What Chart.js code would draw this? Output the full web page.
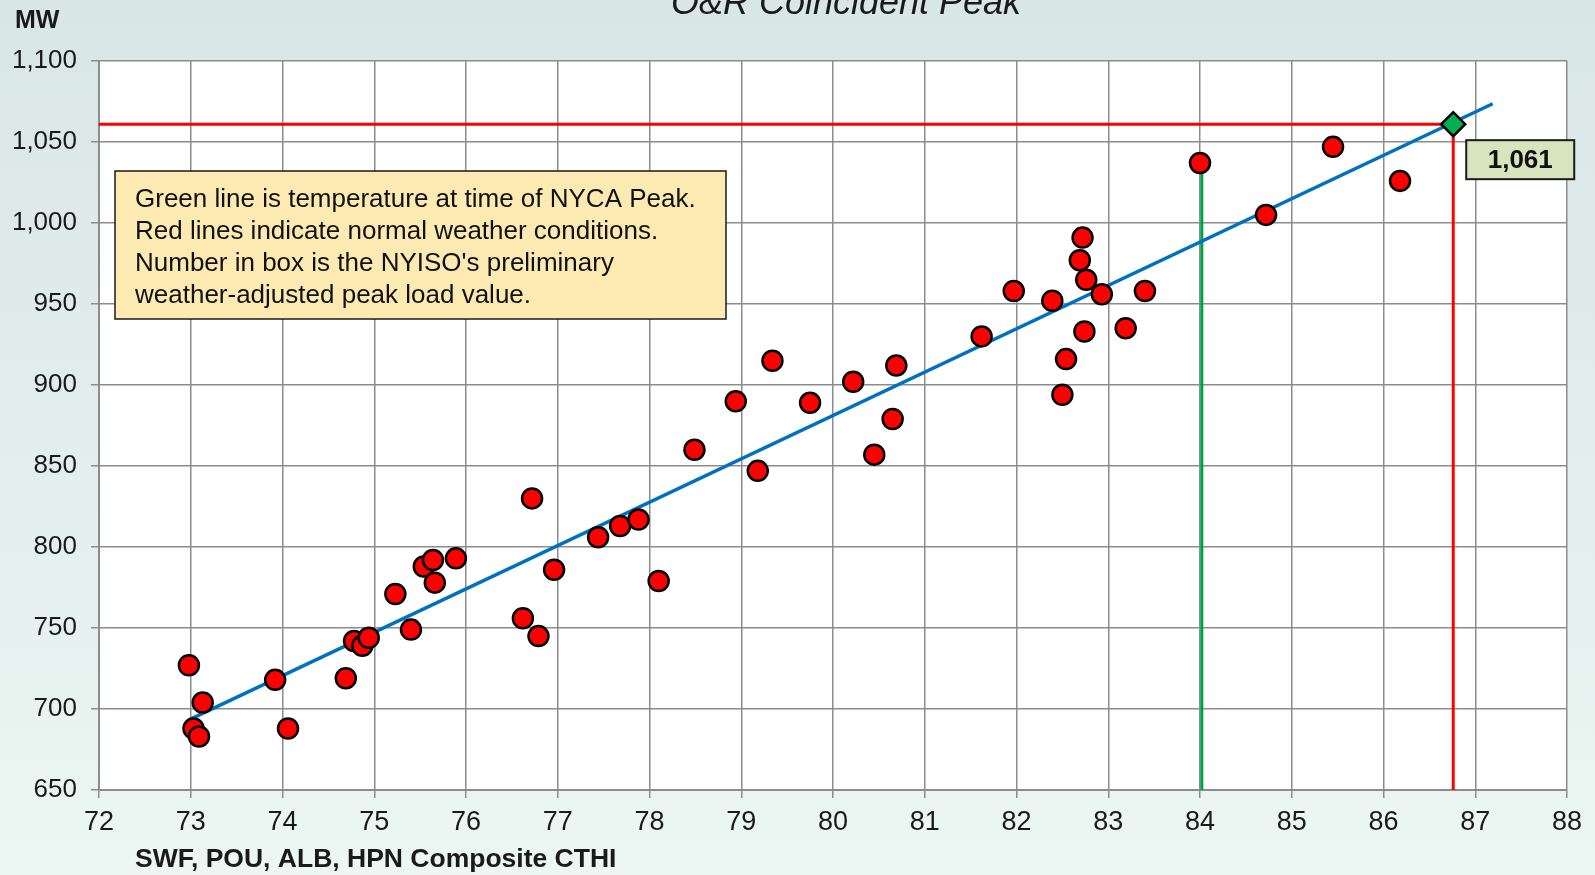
<!DOCTYPE html>
<html>
<head>
<meta charset="utf-8">
<script src="https://cdn.jsdelivr.net/npm/chart.js@4.4.1/dist/chart.umd.min.js"></script>
<style>
  html, body { margin: 0; padding: 0; background: #dfeae9; }
  #wrap { width: 1595px; height: 875px; }
</style>
</head>
<body>
<div id="wrap"><canvas id="chart" width="1595" height="875"></canvas></div>
<script>
/* ─── Dados ─── */
const tempCTHI = [72.98, 73.03, 73.09, 73.13, 73.92, 74.06, 74.69, 74.78, 74.87, 74.94,
  75.23, 75.40, 75.54, 75.64, 75.66, 75.89, 76.62, 76.72, 76.79, 76.96,
  77.44, 77.68, 77.88, 78.10, 78.49, 78.94, 79.18, 79.34, 79.75, 80.22,
  80.45, 80.65, 80.69, 81.62, 81.97, 82.39, 82.50, 82.54, 82.69, 82.72,
  82.76, 82.74, 82.93, 83.19, 83.40, 84.00, 84.72, 85.45, 86.18];
const peakMW = [727, 688, 683, 704, 718, 688, 719, 742, 739, 744,
  771, 749, 788, 792, 778, 793, 756, 830, 745, 786,
  806, 813, 817, 779, 860, 890, 847, 915, 889, 902,
  857, 879, 912, 930, 958, 952, 894, 916, 977, 991,
  965, 933, 956, 935, 958, 1037, 1005, 1047, 1026];

const trendX = [72.98, 87.19];
const trendY = [693.3, 1073.6];

const nycaPeakTemp = 84.02;      // linha verde
const nycaPeakMW = 1036;
const normalTemp = 86.76;        // linhas vermelhas
const normalMW = 1061;
const adjustedLabel = '1,061';

const xTicks = { min: 72, max: 88, step: 1 };
const yTicks = { min: 650, max: 1100, step: 50 };

const chartTitle = 'O&R Coincident Peak';
const yTitle = 'MW';
const xTitle = 'SWF, POU, ALB, HPN Composite CTHI';
const noteLines = [
  'Green line is temperature at time of NYCA Peak.',
  'Red lines indicate normal weather conditions.',
  "Number in box is the NYISO's preliminary",
  'weather-adjusted peak load value.'
];

const FONT = "'Liberation Sans', Arial, sans-serif";

/* ─── Fundo + textos ─── */
const decorPlugin = {
  id: 'decor',
  beforeDraw(chart) {
    const { ctx, chartArea: a, width, height } = chart;
    ctx.save();
    const g = ctx.createLinearGradient(0, 0, 0, height);
    g.addColorStop(0, '#d8e6e5');
    g.addColorStop(1, '#ecf6f3');
    ctx.fillStyle = g;
    ctx.fillRect(0, 0, width, height);
    ctx.fillStyle = '#ffffff';
    ctx.fillRect(a.left, a.top, a.right - a.left, a.bottom - a.top);
    ctx.restore();
  },
  afterDatasetsDraw(chart) {
    const { ctx, scales } = chart;
    ctx.save();
    ctx.fillStyle = '#1a1a1a';
    ctx.textBaseline = 'alphabetic';

    // título (cortado no topo)
    ctx.font = `italic 36px ${FONT}`;
    ctx.textAlign = 'center';
    ctx.fillText(chartTitle, 846, 14);

    ctx.font = `bold 25px ${FONT}`;
    ctx.textAlign = 'left';
    ctx.fillText(yTitle, 15, 28);

    ctx.font = `bold 26.5px ${FONT}`;
    ctx.fillText(xTitle, 135, 867);

    // caixa de nota
    const bx = 115, by = 171, bw = 611, bh = 148;
    ctx.fillStyle = '#fde9b2';
    ctx.fillRect(bx, by, bw, bh);
    ctx.strokeStyle = '#1a1a1a';
    ctx.lineWidth = 1.5;
    ctx.strokeRect(bx, by, bw, bh);
    ctx.fillStyle = '#111';
    ctx.font = `26px ${FONT}`;
    noteLines.forEach((t, i) => ctx.fillText(t, bx + 20, by + 36 + i * 32));

    // caixa do valor ajustado
    const px = scales.x.getPixelForValue(normalTemp);
    const py = scales.y.getPixelForValue(normalMW);
    const lx = px + 13, ly = py + 16, lw = 108, lh = 39;
    ctx.fillStyle = '#d7e4bd';
    ctx.fillRect(lx, ly, lw, lh);
    ctx.lineWidth = 2;
    ctx.strokeRect(lx, ly, lw, lh);
    ctx.fillStyle = '#111';
    ctx.font = `bold 26px ${FONT}`;
    ctx.textAlign = 'center';
    ctx.textBaseline = 'middle';
    ctx.fillText(adjustedLabel, lx + lw / 2, ly + lh / 2 + 1);
    ctx.restore();
  }
};

const points = tempCTHI.map((x, i) => ({ x, y: peakMW[i] }));
const trend = trendX.map((x, i) => ({ x, y: trendY[i] }));

new Chart(document.getElementById('chart').getContext('2d'), {
  type: 'scatter',
  data: {
    datasets: [
      {
        label: 'Normal MW',
        type: 'line',
        data: [{ x: xTicks.min, y: normalMW }, { x: normalTemp, y: normalMW }],
        borderColor: '#ff0000', borderWidth: 3, pointRadius: 0, order: 5,
      },
      {
        label: 'Normal temp',
        type: 'line',
        data: [{ x: normalTemp, y: yTicks.min }, { x: normalTemp, y: normalMW }],
        borderColor: '#ff0000', borderWidth: 3, pointRadius: 0, order: 5,
      },
      {
        label: 'NYCA peak temp',
        type: 'line',
        data: [{ x: nycaPeakTemp, y: yTicks.min }, { x: nycaPeakTemp, y: nycaPeakMW }],
        borderColor: '#00a04a', borderWidth: 3, pointRadius: 0, order: 5,
      },
      {
        label: 'Trend',
        type: 'line',
        data: trend,
        borderColor: '#0070c0', borderWidth: 3.5, pointRadius: 0, order: 4,
      },
      {
        label: 'Peaks',
        data: points,
        backgroundColor: '#ff0000',
        borderColor: '#000000',
        borderWidth: 2.5,
        pointRadius: 10,
        order: 2,
      },
      {
        label: 'Normal peak',
        data: [{ x: normalTemp, y: normalMW }],
        pointStyle: 'rectRot',
        backgroundColor: '#00b050',
        borderColor: '#000000',
        borderWidth: 2.5,
        pointRadius: 12,
        order: 1,
      }
    ]
  },
  options: {
    responsive: false,
    animation: false,
    layout: { padding: { top: 61, right: 28, left: 0, bottom: 0 } },
    plugins: { legend: { display: false }, tooltip: { enabled: false } },
    scales: {
      x: {
        type: 'linear',
        min: xTicks.min, max: xTicks.max,
        afterFit: s => { s.height = 85; },
        ticks: { stepSize: xTicks.step, color: '#1a1a1a', padding: 8, font: { family: FONT, size: 27 } },
        grid: { color: '#8c8c8c', lineWidth: 1.5, tickLength: 8 },
        border: { color: '#8c8c8c', width: 2 },
      },
      y: {
        min: yTicks.min, max: yTicks.max,
        afterFit: s => { s.width = 99; },
        ticks: {
          stepSize: yTicks.step, color: '#1a1a1a', padding: 14,
          font: { family: FONT, size: 26 },
          callback: v => v.toLocaleString('en-US')
        },
        grid: { color: '#8c8c8c', lineWidth: 1.5, tickLength: 8 },
        border: { color: '#8c8c8c', width: 2 },
      }
    }
  },
  plugins: [decorPlugin]
});
</script>
</body>
</html>
